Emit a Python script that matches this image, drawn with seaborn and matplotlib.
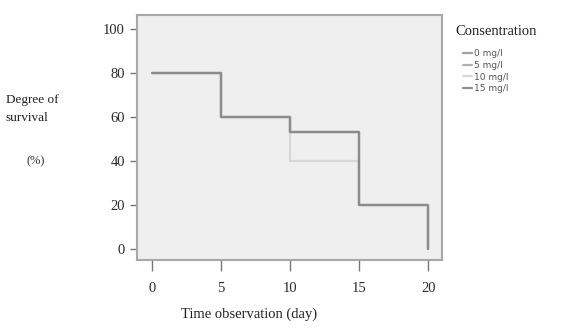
import pandas as pd
import matplotlib
matplotlib.use("Agg")
import matplotlib.pyplot as plt
import seaborn as sns

# --- Data ---
days = [0, 5, 10, 15, 20]
surv_0 = [80, 60, 53, 20, 0]
surv_5 = [80, 60, 53, 20, 0]
surv_10 = [80, 60, 40, 20, 20]
surv_15 = [80, 60, 53, 20, 0]
groups = ["0 mg/l", "5 mg/l", "10 mg/l", "15 mg/l"]

rows = []
for name, vals in zip(groups, [surv_0, surv_5, surv_10, surv_15]):
    for d, v in zip(days, vals):
        rows.append({"day": d, "survival": v, "group": name})
df = pd.DataFrame(rows)

# --- Plot ---
sns.set_theme(style="white")
plt.rcParams["font.family"] = ["Liberation Serif", "DejaVu Serif"]

fig = plt.figure(figsize=(5.8, 3.31), dpi=100)
ax = fig.add_axes([0.236, 0.215, 0.526, 0.74])
ax.set_facecolor("#efefef")

palette = {"0 mg/l": "#a0a0a0", "5 mg/l": "#b0b0b0",
           "10 mg/l": "#d8d8d8", "15 mg/l": "#8c8c8c"}
order = ["10 mg/l", "0 mg/l", "5 mg/l", "15 mg/l"]
for g in order:
    sub = df[df["group"] == g]
    sns.lineplot(data=sub, x="day", y="survival", ax=ax, color=palette[g],
                 drawstyle="steps-post", linewidth=1.6, label=g, legend=False)

ax.set_xlim(-1.1, 21)
ax.set_ylim(-5, 106.4)
ax.set_xticks(days)
ax.set_yticks([0, 20, 40, 60, 80, 100])
ax.set_xlabel("")
ax.set_ylabel("")
ax.tick_params(axis="both", which="both", direction="out", length=5,
               width=1, color="#777777", labelsize=10.5, labelcolor="#2a2a2a",
               bottom=True, left=True)
ax.tick_params(axis="x", pad=8, length=8)
for s in ax.spines.values():
    s.set_color("#a8a8a8")
    s.set_linewidth(1.5)

fig.text(0.43, 0.04, "Time observation (day)", ha="center", fontsize=10.5, color="#222222")
fig.text(0.01, 0.69, "Degree of", fontsize=9.5, color="#222222")
fig.text(0.01, 0.635, "survival", fontsize=9.5, color="#222222")
fig.text(0.045, 0.505, "(%)", fontsize=9, color="#333333")
fig.text(0.785, 0.895, "Consentration", fontsize=10.5, color="#222222")

handles = {l: h for h, l in zip(*ax.get_legend_handles_labels())}
leg = fig.legend([handles[g] for g in groups], groups,
                 loc="upper left", bbox_to_anchor=(0.79, 0.865), frameon=False,
                 handlelength=1.0, handletextpad=0.3, labelspacing=0.3,
                 borderpad=0, prop={"family": "DejaVu Sans", "size": 6.5})
for t in leg.get_texts():
    t.set_color("#555555")

plt.savefig("out.png", dpi=100)
